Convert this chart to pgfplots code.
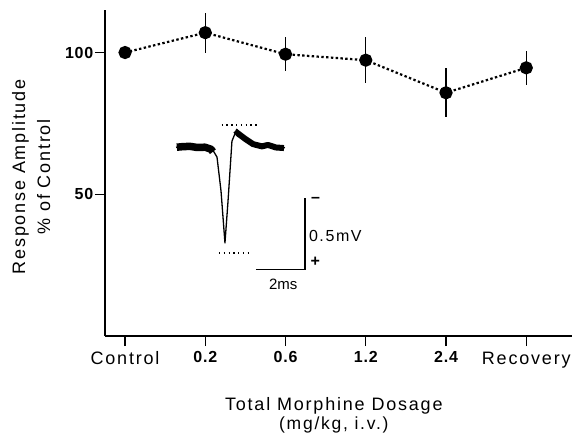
\documentclass[border=0pt]{standalone}
\usepackage{pgfplots}
\pgfplotsset{compat=1.18}
\usepackage{fontspec}
\setmainfont{Liberation Sans}
\newfontfamily\lab[LetterSpace=10]{Liberation Sans}
\newfontfamily\numfam[LetterSpace=5]{Liberation Sans}
\newcommand{\numf}{\numfam\bfseries\fontsize{16bp}{19bp}\selectfont}
\newcommand{\labf}{\lab\fontsize{18bp}{21bp}\selectfont}
\begin{document}
\begin{tikzpicture}
\useasboundingbox (-105bp,-98bp) rectangle (469bp,336bp);
\begin{axis}[
  scale only axis, width=467bp, height=326bp,
  xmin=-0.25, xmax=5.57, ymin=0, ymax=115,
  axis x line=bottom, axis y line=left,
  axis line style={-, line width=1.6bp},
  tick align=outside, major tick length=10bp,
  tick style={line width=1.4bp, black},
  xtick={0,1,2,3,4,5},
  xticklabels={{\labf Control},{\numf 0.2},{\numf 0.6},{\numf 1.2},{\numf 2.4},{\labf Recovery}},
  ytick={50,100},
  yticklabels={50,100},
  yticklabel style={font=\numf, inner sep=1.5bp},
  xticklabel style={inner sep=5.5bp},
  xlabel={Total Morphine Dosage\\[-2bp]{\lab\fontsize{17.5bp}{20bp}\selectfont (mg/kg, i.v.)}},
  xlabel style={font=\labf, align=center, inner sep=0pt, at={(axis description cs:0.49,-0.187)}, anchor=north},
  ylabel={Response Amplitude\\[4bp]\% of Control},
  ylabel style={font=\labf, align=center, at={(axis description cs:-0.158,0.488)}, anchor=center},
  clip=false,
]
% main series
\addplot[black, line width=2.2bp, dash pattern=on 2.4bp off 2.4bp,
  mark=*, mark size=5.5bp, mark options={solid, fill=black},
  error bars/.cd, y dir=both, y explicit, error mark=none,
  error bar style={line width=1.2bp, solid}]
  table[x=x, y=y, y error=e] {
x y e
0 100 0
1 107 7
2 99.4 6
3 97.3 8
4 85.8 8.7
5 94.6 6
};
% inset trace (thin)
\addplot[black, line width=1.3bp, line join=round, mark=none] coordinates {
(0.635,66.6) (0.809,66.9) (0.996,66.6) (1.096,65.5) (1.146,63.1) (1.196,51.1) (1.245,32.8) (1.283,47.5) (1.332,68.7) (1.391,72.9) (1.494,70.1) (1.594,68.0) (1.706,67.0) (1.781,67.7) (1.880,66.6) (1.993,66.4)
};
% inset trace (noisy thick bands)
\addplot[black, line width=7.5bp, line join=round, mark=none] coordinates {
(0.645,66.6) (0.72,66.8) (0.809,66.9) (0.90,66.5) (0.996,66.6) (1.07,65.9) (1.095,65.0)
};
\addplot[black, line width=6bp, line join=round, mark=none] coordinates {
(1.375,71.0) (1.40,71.6) (1.494,69.6) (1.594,67.7) (1.706,66.9) (1.781,67.4) (1.880,66.5) (1.98,66.3)
};
% dotted guides
\addplot[black, line width=1.3bp, dash pattern=on 1.3bp off 3.5bp, mark=none] coordinates {(1.204,74.4) (1.66,74.4)};
\addplot[black, line width=1.3bp, dash pattern=on 1.3bp off 3.5bp, mark=none] coordinates {(1.17,29.3) (1.58,29.3)};
% scale bar
\addplot[black, line width=1.2bp, mark=none] coordinates {(1.631,23.4) (2.242,23.4) (2.242,48.7)};
\node[font=\lab\fontsize{16bp}{19bp}\selectfont, anchor=west, inner sep=0pt] at (axis cs:2.29,35.2) {0.5mV};
\node[font=\fontsize{16bp}{19bp}\selectfont\bfseries, inner sep=0pt] at (axis cs:2.37,26.3) {+};
\node[font=\fontsize{16bp}{19bp}\selectfont\bfseries, inner sep=0pt] at (axis cs:2.375,48.0) {--};
\node[font=\fontsize{15bp}{18bp}\selectfont, inner sep=0pt] at (axis cs:1.971,18.1) {2ms};
\end{axis}
\end{tikzpicture}
\end{document}
